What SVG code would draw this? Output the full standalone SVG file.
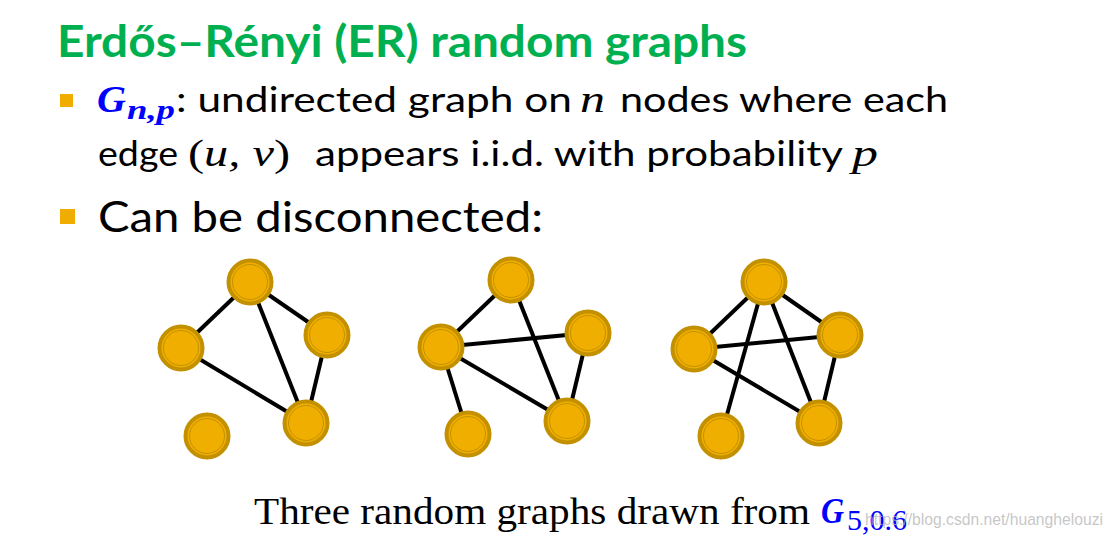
<svg xmlns="http://www.w3.org/2000/svg" width="1114" height="538" viewBox="0 0 1114 538">
<style>
.title{font-family:Lato,"Open Sans","Liberation Sans",sans-serif;font-weight:bold;fill:#00b050;font-size:44px}
.body{font-family:Lato,"Open Sans","Liberation Sans",sans-serif;fill:#000}
.math{font-family:"Liberation Serif","DejaVu Serif",serif;font-style:italic}
.up{font-style:normal}
.blue{font-family:"Liberation Serif","DejaVu Serif",serif;font-style:italic;font-weight:bold;fill:#0000ff}
.cap{font-family:"Liberation Serif","DejaVu Serif",serif;fill:#000}
.bullet{fill:#f0ad00}
.edge{stroke:#000;stroke-width:4;stroke-linecap:butt}
.o{fill:#f0ae00;stroke:#c39100;stroke-width:4}
.i{fill:none;stroke:#c39100;stroke-width:1}
.wm{font-family:"Liberation Sans",Arial,sans-serif;font-size:17px;fill:#b4b4b4;fill-opacity:0.75}
</style>
<defs>
<g id="nd"><circle class="o" r="21.5" fill="#f0ae00" stroke="#c39100" stroke-width="4"/><circle class="i" r="17.5" fill="none" stroke="#c39100" stroke-width="1"/></g>
</defs>

<text class="title" x="57" y="57" textLength="690" lengthAdjust="spacingAndGlyphs">Erdős–Rényi (ER) random graphs</text>

<rect class="bullet" x="60" y="94" width="13" height="13"/>
<text class="blue" x="97" y="112" font-size="38" textLength="29" lengthAdjust="spacingAndGlyphs">G</text>
<text class="blue" x="127" y="119" font-size="27" textLength="48" lengthAdjust="spacingAndGlyphs">n,p</text>
<text class="body" x="176" y="112" font-size="34" textLength="396" lengthAdjust="spacingAndGlyphs">: undirected graph on</text>
<text class="math" x="580" y="112" font-size="38" textLength="25" lengthAdjust="spacingAndGlyphs">n</text>
<text class="body" x="620" y="112" font-size="34" textLength="328" lengthAdjust="spacingAndGlyphs">nodes where each</text>

<text class="body" x="98" y="166" font-size="34" textLength="80" lengthAdjust="spacingAndGlyphs">edge</text>
<text class="math" x="188" y="166" font-size="37" textLength="102" lengthAdjust="spacingAndGlyphs"><tspan class="up">(</tspan>u, v<tspan class="up">)</tspan></text>
<text class="body" x="315" y="166" font-size="34" textLength="528" lengthAdjust="spacingAndGlyphs">appears i.i.d. with probability</text>
<text class="math" x="852" y="166" font-size="38" textLength="26" lengthAdjust="spacingAndGlyphs">p</text>

<rect class="bullet" x="60" y="209" width="15" height="15"/>
<text class="body" x="98" y="232" font-size="43" textLength="445" lengthAdjust="spacingAndGlyphs">Can be disconnected:</text>

<g id="connectors">
<line class="edge" x1="250" y1="282" x2="181" y2="348"/>
<line class="edge" x1="250" y1="282" x2="327" y2="335"/>
<line class="edge" x1="250" y1="282" x2="306" y2="423"/>
<line class="edge" x1="181" y1="348" x2="306" y2="423"/>
<line class="edge" x1="327" y1="335" x2="306" y2="423"/>

<line class="edge" x1="511" y1="280" x2="441" y2="347"/>
<line class="edge" x1="511" y1="280" x2="567" y2="421"/>
<line class="edge" x1="441" y1="347" x2="588" y2="333"/>
<line class="edge" x1="441" y1="347" x2="567" y2="421"/>
<line class="edge" x1="441" y1="347" x2="468" y2="434"/>
<line class="edge" x1="588" y1="333" x2="567" y2="421"/>

<line class="edge" x1="764" y1="282" x2="694" y2="349"/>
<line class="edge" x1="764" y1="282" x2="840" y2="335"/>
<line class="edge" x1="764" y1="282" x2="721" y2="436"/>
<line class="edge" x1="764" y1="282" x2="819" y2="423"/>
<line class="edge" x1="694" y1="349" x2="840" y2="335"/>
<line class="edge" x1="694" y1="349" x2="819" y2="423"/>
<line class="edge" x1="840" y1="335" x2="819" y2="423"/>
</g>

<g id="g1-top" class="node"><use href="#nd" x="250" y="282"/></g>
<g id="g1-left" class="node"><use href="#nd" x="181" y="348"/></g>
<g id="g1-right" class="node"><use href="#nd" x="327" y="335"/></g>
<g id="g1-br" class="node"><use href="#nd" x="306" y="423"/></g>
<g id="g1-bl" class="node"><use href="#nd" x="207" y="436"/></g>

<g id="g2-top" class="node"><use href="#nd" x="511" y="280"/></g>
<g id="g2-left" class="node"><use href="#nd" x="441" y="347"/></g>
<g id="g2-right" class="node"><use href="#nd" x="588" y="333"/></g>
<g id="g2-br" class="node"><use href="#nd" x="567" y="421"/></g>
<g id="g2-bl" class="node"><use href="#nd" x="468" y="434"/></g>

<g id="g3-top" class="node"><use href="#nd" x="764" y="282"/></g>
<g id="g3-left" class="node"><use href="#nd" x="694" y="349"/></g>
<g id="g3-right" class="node"><use href="#nd" x="840" y="335"/></g>
<g id="g3-br" class="node"><use href="#nd" x="819" y="423"/></g>
<g id="g3-bl" class="node"><use href="#nd" x="721" y="436"/></g>

<text class="cap" x="254" y="524" font-size="38" textLength="556" lengthAdjust="spacingAndGlyphs">Three random graphs drawn from</text>
<text class="blue" x="821" y="523" font-size="36" textLength="23" lengthAdjust="spacingAndGlyphs">G</text>
<text x="847" y="530" font-size="30" textLength="60" lengthAdjust="spacingAndGlyphs" style="font-family:'Liberation Serif',serif;fill:#0000ff">5,0.6</text>
<text class="wm" x="865" y="525" textLength="238" lengthAdjust="spacingAndGlyphs">https://blog.csdn.net/huanghelouzi</text>
</svg>
